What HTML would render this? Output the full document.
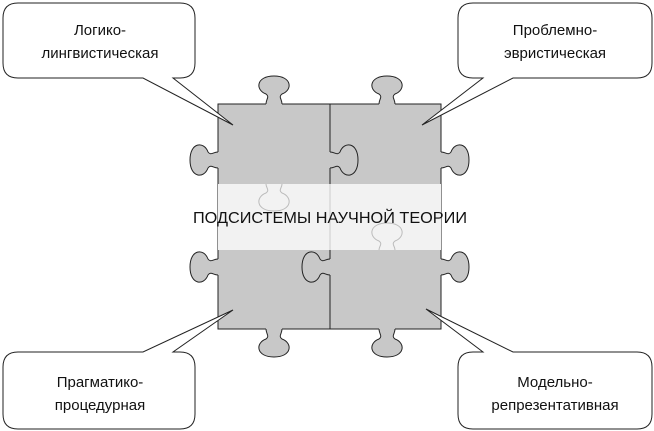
<!DOCTYPE html>
<html><head><meta charset="utf-8"><style>
html,body{margin:0;padding:0;background:#fff;}
svg{display:block;}
text{font-family:"Liberation Sans","DejaVu Sans",sans-serif;fill:#111;}
</style></head><body>
<svg width="654" height="431" viewBox="0 0 654 431" xmlns="http://www.w3.org/2000/svg">
<defs>
<g id="knob">
<rect x="-8" y="-1.5" width="16" height="3" fill="#c8c8c8" stroke="none"/>
<path d="M-8,0 C-8,-5 -4,-7 -8,-10 C-19,-14 -18,-28 0,-28 C18,-28 19,-14 8,-10 C4,-7 8,-5 8,0" fill="#c8c8c8" stroke="#222" stroke-width="1"/>
</g>
</defs>
<rect x="218" y="104" width="223" height="225" fill="#c8c8c8" stroke="#222" stroke-width="1"/>
<line x1="330" y1="104" x2="330" y2="329" stroke="#222"/>
<use href="#knob" transform="translate(274,104)"/>
<use href="#knob" transform="translate(387,104)"/>
<use href="#knob" transform="translate(274,329) rotate(180)"/>
<use href="#knob" transform="translate(387,329) rotate(180)"/>
<use href="#knob" transform="translate(218,160) rotate(-90)"/>
<use href="#knob" transform="translate(218,267) rotate(-90)"/>
<use href="#knob" transform="translate(441,160) rotate(90)"/>
<use href="#knob" transform="translate(441,267) rotate(90)"/>
<use href="#knob" transform="translate(330,160) rotate(90)"/>
<use href="#knob" transform="translate(330,267) rotate(-90)"/>
<!-- band -->
<rect x="218" y="184" width="223" height="66" fill="#f2f2f2"/>
<line x1="330" y1="184" x2="330" y2="250" stroke="#ccc"/>
<path d="M266,184 C266,188 270,190 266,193 C255,197 256,211 274,211 C292,211 293,197 282,193 C278,190 282,188 282,184" fill="none" stroke="#bbb"/>
<path d="M379,250 C379,246 383,244 379,241 C368,237 369,223 387,223 C405,223 406,237 395,241 C391,244 395,246 395,250" fill="none" stroke="#bbb"/>
<text x="330" y="223" font-size="16" text-anchor="middle" textLength="274" lengthAdjust="spacingAndGlyphs">ПОДСИСТЕМЫ НАУЧНОЙ ТЕОРИИ</text>
<!-- callouts -->
<g fill="#fff" stroke="#222" stroke-width="1">
<path d="M18,3 H180 Q195,3 195,18 V63 Q195,78 180,78 H173 L233,125 L143,78 H18 Q3,78 3,63 V18 Q3,3 18,3 Z"/>
<path d="M473,3 H637 Q652,3 652,18 V63 Q652,78 637,78 H513 L422,125 L483,78 H473 Q458,78 458,63 V18 Q458,3 473,3 Z"/>
<path d="M18,352 H143 L233,310 L173,352 H180 Q195,352 195,367 V414 Q195,429 180,429 H18 Q3,429 3,414 V367 Q3,352 18,352 Z"/>
<path d="M473,352 H483 L426,309 L513,352 H637 Q652,352 652,367 V414 Q652,429 637,429 H473 Q458,429 458,414 V367 Q458,352 473,352 Z"/>
</g>
<g font-size="15" text-anchor="middle">
<text x="100" y="35">Логико-</text>
<text x="100" y="58">лингвистическая</text>
<text x="555" y="35">Проблемно-</text>
<text x="555" y="58">эвристическая</text>
<text x="100" y="387">Прагматико-</text>
<text x="100" y="410">процедурная</text>
<text x="555" y="387">Модельно-</text>
<text x="555" y="410">репрезентативная</text>
</g>
</svg>
</body></html>
